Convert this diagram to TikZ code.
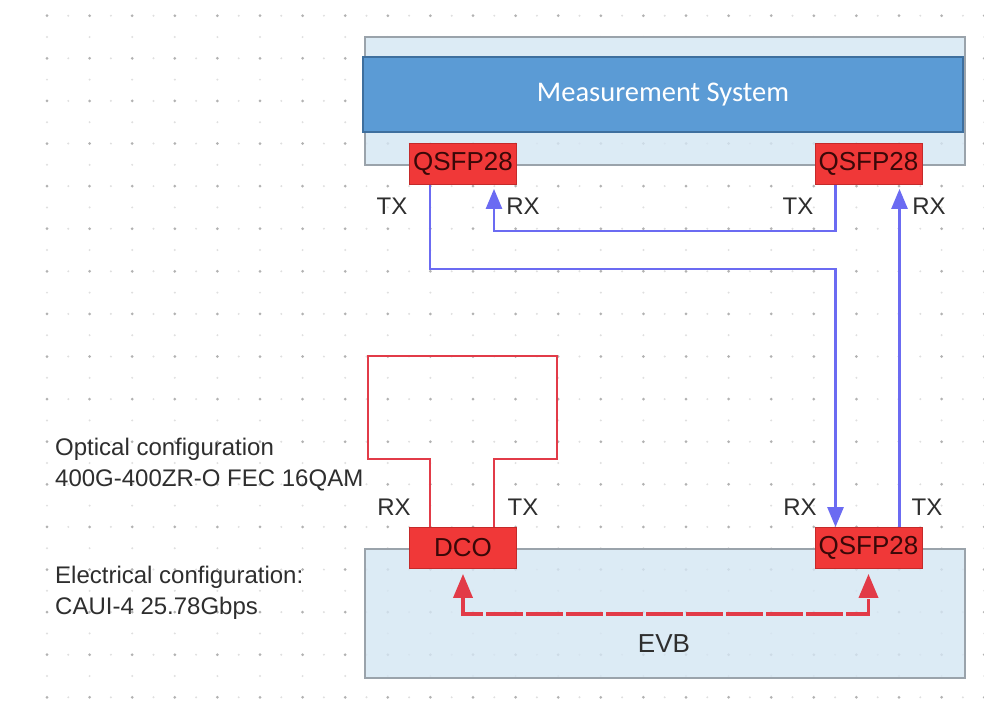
\documentclass[tikz,border=0pt]{standalone}
\usepackage{fontspec}
\setmainfont{Liberation Sans}
\newfontfamily\calfont{Carlito}
\usetikzlibrary{arrows.meta}

\definecolor{paleblue}{HTML}{D4E6F3}
\definecolor{paleedge}{HTML}{9AA3AB}
\definecolor{msblue}{HTML}{5B9BD5}
\definecolor{msedge}{HTML}{3E6F9E}
\definecolor{portred}{HTML}{F03838}
\definecolor{portedge}{HTML}{C42A2A}
\definecolor{porttext}{HTML}{3A0808}
\definecolor{sigblue}{HTML}{6B6BF2}
\definecolor{sigred}{HTML}{E23B48}
\definecolor{inktext}{HTML}{2E2E2E}

\tikzset{
  board/.style={draw=paleedge, line width=1.8pt, fill=paleblue, fill opacity=0.8,
    minimum width=600pt, minimum height=128pt, inner sep=0pt},
  sysbox/.style={draw=msedge, line width=1.2pt, fill=msblue, minimum width=600pt,
    minimum height=75pt, inner sep=0pt, text=white, font=\calfont\fontsize{28.5}{32}\selectfont},
  port/.style={draw=portedge, line width=0.8pt, fill=portred, minimum width=107pt,
    minimum height=41pt, inner sep=0pt, text=porttext,
    font=\fontsize{26}{30}\selectfont},
  pin/.style={text=inktext, font=\fontsize{24}{28}\selectfont, inner sep=0pt},
  note/.style={text=inktext, font=\fontsize{24}{31}\selectfont, align=left,
    inner sep=0pt, anchor=north west},
  optlink/.style={draw=sigblue, line width=2.6pt,
    -{Triangle[width=16pt,length=20pt]}},
  loopback/.style={draw=sigred, line width=2.2pt},
  elink/.style={draw=sigred, line width=3.6pt, dash pattern=on 37pt off 3pt,
    {Triangle[width=19pt,length=24pt]}-{Triangle[width=19pt,length=24pt]}}
}

\begin{document}
\begin{tikzpicture}[x=1pt, y=-1pt]
\useasboundingbox (0,0) rectangle (984,716);
\fill[white] (0,0) rectangle (984,716);

% dotted drawing grid
\foreach \i in {0,...,22}{
  \foreach \j in {0,...,16}{
    \fill[gray!60] (47+42.6*\i, 15.7+42.6*\j) circle (1.5pt);
    \fill[gray!25] (68.3+42.6*\i, 15.7+42.6*\j) circle (1.1pt);
    \fill[gray!25] (47+42.6*\i, 37+42.6*\j) circle (1.1pt);
  }
}

% boards
\node[board] (top) at (665,101) {};
\node[sysbox] (ms) at (663,94.5) {\raisebox{-2pt}{Measurement System}};
\node[board, minimum height=129pt] (evb) at (665,613.5) {};
\node[text=inktext, font=\fontsize{26}{30}\selectfont, inner sep=0pt] (evbname) at (664,644) {EVB};

% modules
\node[port] (qL) at (463,164) {QSFP28};
\node[port] (qR) at (868.5,164) {QSFP28};
\node[port] (dco) at (463,548) {DCO};
\node[port] (qB) at (868.5,548) {QSFP28};

% port labels
\node[pin] (tL) at (392,206) {TX};
\node[pin] (rL) at (523,206) {RX};
\node[pin] (tR) at (798,206) {TX};
\node[pin] (rR) at (929,206) {RX};
\node[pin] (rD) at (394,507) {RX};
\node[pin] (tD) at (523,507) {TX};
\node[pin] (rB) at (800,507) {RX};
\node[pin] (tB) at (927,507) {TX};

% notes
\node[note] (opt) at (55,437.5) {Optical configuration\\400G-400ZR-O FEC 16QAM};
\node[note] (ele) at (55,565.5) {Electrical configuration:\\CAUI-4 25.78Gbps};

% optical links
\draw[optlink] ([xshift=-33pt]qL.south) -- ++(0,84) -| ([xshift=-33pt]qB.north);
\draw[optlink, shorten >=4pt] ([xshift=-33pt]qR.south) -- ++(0,46) -| ([xshift=31pt]qL.south);
\draw[optlink, shorten >=4pt] ([xshift=31pt]qB.north) -- ([xshift=31pt]qR.south);

% DCO loopback fibre
\draw[loopback] ([xshift=-33pt]dco.north) |- ++(-62,-68) -- ++(0,-103)
  -- ++(189,0) -- ++(0,103) -| ([xshift=31pt]dco.north);

% electrical link on the EVB
\draw[elink, shorten <=5pt, shorten >=5pt] (dco.south) -- ++(0,45) -| (qB.south);
\end{tikzpicture}
\end{document}
